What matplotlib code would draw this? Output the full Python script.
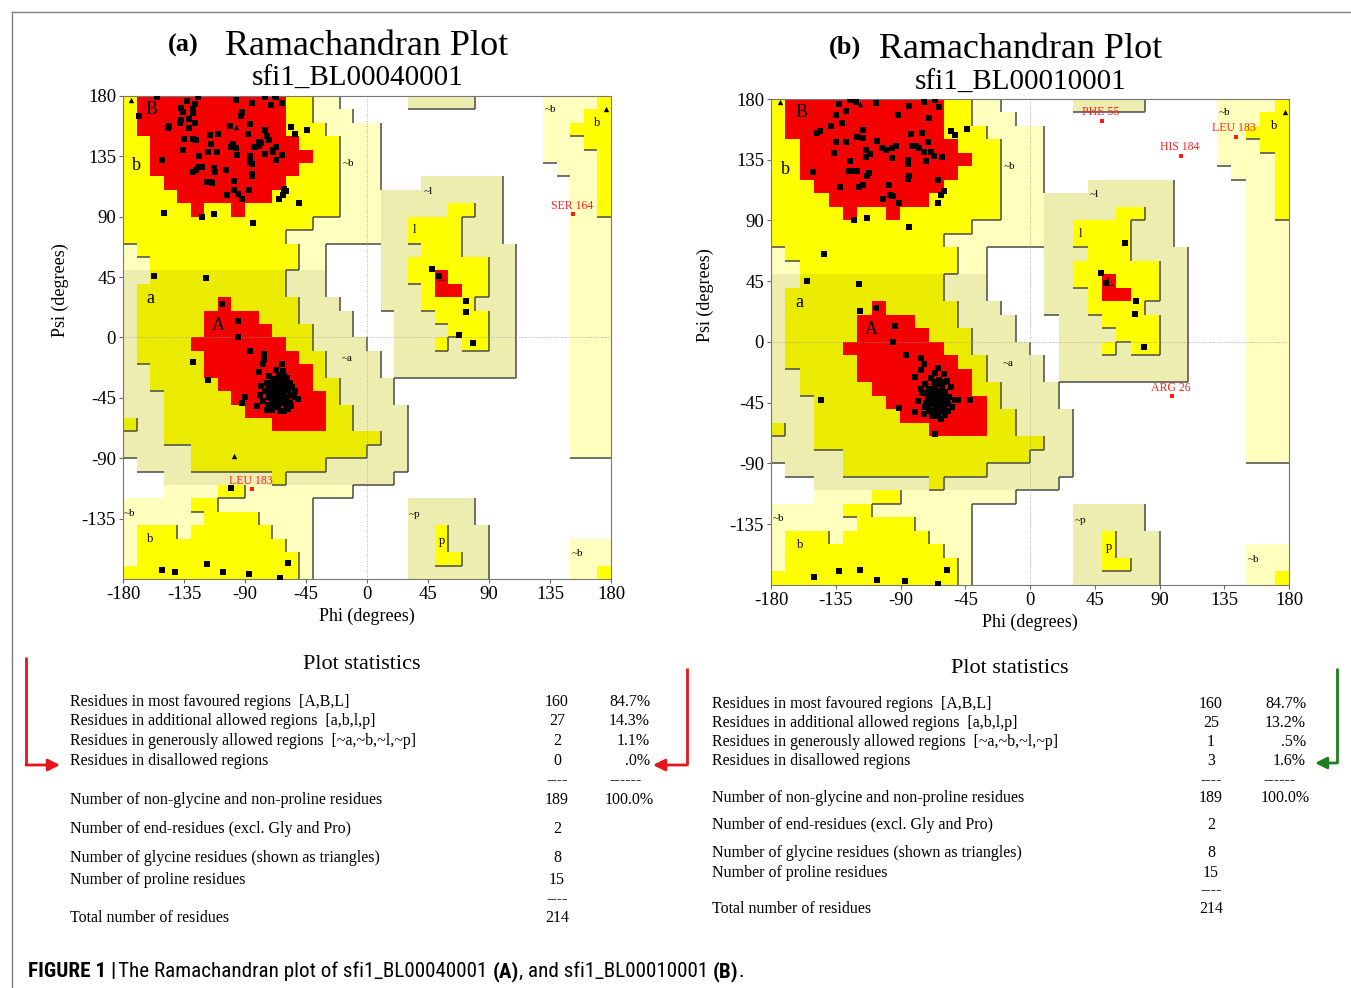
import matplotlib
matplotlib.use("Agg")
import matplotlib.pyplot as plt
import numpy as np
from matplotlib import font_manager
from matplotlib.collections import LineCollection
from matplotlib.colors import ListedColormap

W, H = 1351, 988
plt.rcParams["font.family"] = ["Liberation Serif", "DejaVu Serif"]
plt.rcParams["axes.unicode_minus"] = False

# PROCHECK region map in 10 degree cells: rows psi 180 -> -180, columns phi -180 -> 180
# R core, Y allowed (b,l,p), A allowed (a), g generous (~b), k generous (~a,~l,~p), . disallowed
REGION_ROWS = [
    "YRRRRRRRRRRRYYgg.....kkkkk.....ggggY",
    "YRRRRRRRRRRRYYggg..............gggYY",
    "YRRRRRRRRRRRYYYgggg............ggYYY",
    "YYRRRRRRRRRRRYYYggg............gggYY",
    "YYRRRRRRRRRRRRYYggg............ggggY",
    "YYRRRRRRRRRRRYYYggg.............gggY",
    "YYYRRRRRRRRRYYYYggg...kkkkkk.....ggY",
    "YYYYRRRRRRRYYYYYgggkkkkkkkkk.....ggY",
    "YYYYYRYYRYYYYYYYgggkkkkkYYkk.....ggY",
    "YYYYYYYYYYYYYYgggggkkYYYYkkk.....ggg",
    "YYYYYYYYYYYYgggggggkkYYYYkkk.....ggg",
    "gYYYYYYYYYYYYgg....kkkYYYkkkk....ggg",
    "ggYYYYYYYYYYYgg....kkYYYYYYkk....ggg",
    "kkAAAAAAAAAAkkk....kkYYRYYYkk....ggg",
    "kAAAAAAAAAAAkkk....kkkYRRYYkk....ggg",
    "kAAAAAARAAAAAkkk...kkkYYYYkkk....ggg",
    "kAAAAARRRRAAAkkkk...kkkYYYYkk....ggg",
    "kAAAAARRRRRAAAkkk...kkkkYYYkk....ggg",
    "kAAAARRRRRRRAAkkkk..kkkYkYYkk....ggg",
    "kAAAAARRRRRRRAAkkkk.kkkkkkkkk....ggg",
    "kkAAAARRRRRRRRAkkkk.kkkkkkkkk....ggg",
    "kkAAAAARRRRRRRAAkkkk.............ggg",
    "kkkAAAAARRRRRRRAkkkk.............ggg",
    "kkkAAAAAARRRRRRAAkkkk............ggg",
    "AkkAAAAAAAARRRRAAkkkk............ggg",
    "kkkAAAAAAAAAAAAAAAAkk............ggg",
    "kkkkkAAAAAAAAAAAAAkkk............ggg",
    ".kkkkAAAAAAAAAAkkkkkk...............",
    "...kkkkkkkkAkkkkkkkk................",
    "...ggggYYgggggggg...................",
    "gggggYYggggggg.......kkkkk..........",
    "ggggggYYYYgggg.......kkkkk..........",
    "gYYYgYYYYYYggg.......kkYkkk.........",
    "gYYYYYYYYYYYgg.......kkYkkk......ggg",
    "gYYYYYYYYYYYYg.......kkYYkk......ggg",
    "YYYYYYYYYYYYYg.......kkkkkk......ggY",
]
for row in REGION_ROWS:
    assert len(row) == 36, row
REGION_KEYS = ".gkYAR"
REGION_COLORS = ["#ffffff", "#ffffbe", "#ededaf", "#ffff00", "#ebeb00", "#f40000"]
REGION_LEVEL = {".": 0, "g": 1, "k": 1, "Y": 2, "A": 2, "R": 2}

REGION_LABELS = [
    ("B", -159, 170, 13), ("b", -170, 128, 13), ("A", -110, 9, 13), ("a", -160, 29, 13),
    ("~b", -14, 130, 8), ("~a", -15, -16, 8), ("~l", 45, 109, 8), ("l", 35, 80, 9),
    ("L", 55, 44, 9), ("~b", 135, 170, 8), ("b", 170, 160, 9), ("~b", -175, -131, 8),
    ("b", -160, -150, 9), ("~p", 35, -132, 8), ("p", 55, -152, 9), ("~b", 155, -161, 8),
]
TICKS = [-180, -135, -90, -45, 0, 45, 90, 135, 180]

# ---- plot (a): sfi1_BL00040001
A_SHEET = [
    (-155, 179), (-125, 179), (-133, 176), (-127, 174), (-128, 170), (-128, 167), (-137, 171),
    (-136, 168), (-146, 158), (-147, 156), (-138, 160), (-137, 162), (-131, 163), (-127, 160),
    (-131, 156), (-168, 165), (-97, 177), (-85, 175), (-75, 179), (-68, 179), (-71, 173),
    (-63, 175), (-92, 168), (-93, 165), (-101, 158), (-86, 159), (-88, 152), (-75, 155),
    (-56, 157), (-53, 152), (-44, 155), (-74, 150), (-72, 147), (-80, 146), (-78, 145),
    (-80, 143), (-69, 140), (-67, 142), (-69, 138), (-63, 136), (-67, 132), (-75, 137),
    (-83, 142), (-86, 135), (-86, 131), (-85, 129), (-85, 122), (-85, 120), (-97, 141),
    (-96, 136), (-100, 142), (-99, 144), (-110, 152), (-116, 151), (-115, 144), (-111, 138),
    (-117, 138), (-124, 135), (-125, 127), (-126, 125), (-128, 123), (-122, 127), (-113, 126),
    (-112, 123), (-116, 116), (-118, 116), (-114, 115), (-104, 125), (-98, 117), (-103, 106),
    (-98, 110), (-95, 107), (-92, 103), (-87, 110), (-65, 103), (-61, 111), (-62, 106),
    (-60, 109), (-50, 100), (-135, 148), (-128, 148), (-126, 147), (-136, 140), (-151, 132),
    (-150, 93), (-122, 90), (-113, 92), (-84, 85), (-157, 46), (-119, 44), (-67, 179),
]
A_HELIX = [
    (-107, 25), (-95, 12), (-95, 0), (-128, -18), (-86, -10), (-76, -12), (-76, -16),
    (-77, -20), (-117, -32), (-80, -26), (-90, -44), (-92, -49), (-81, -51), (-100, -112),
    (-63, -20), (-67, -24), (-62, -25), (-65, -28), (-72, -29), (-59, -30), (-68, -32),
    (-63, -33), (-74, -34), (-57, -34), (-67, -35), (-60, -37), (-70, -38), (-64, -39),
    (-58, -39), (-75, -40), (-53, -40), (-68, -42), (-62, -43), (-72, -44), (-56, -43),
    (-65, -45), (-59, -47), (-77, -47), (-69, -48), (-63, -49), (-57, -49), (-73, -50),
    (-67, -52), (-60, -52), (-70, -54), (-64, -55), (-58, -53), (-51, -46), (-74, -54),
    (-79, -43), (-78, -36), (-68, -31), (-60, -33), (-64, -41), (-66, -37), (-61, -41),
    (-69, -45), (-55, -37), (-71, -41), (-62, -47), (-66, -50), (-56, -51), (-73, -37),
    (-59, -44), (-65, -31), (-61, -29), (-70, -33), (-66, -41), (-63, -45), (-68, -50),
    (-61, -55), (-54, -44), (-72, -52), (-58, -36), (-64, -36), (-67, -46), (-60, -49),
    (-71, -45),
]
A_OTHER = [
    (-151, -173), (-142, -175), (-118, -169), (-106, -175), (-87, -176), (-64, -179),
    (-58, -168), (48, 51), (53, 46), (73, 27), (73, 19), (68, 2), (78, -4),
]
A_GLYCINES = [(-174, 177), (-97, 157), (-98, -88), (176, 170), (-71, -30)]
A_FLAGGED = [("SER 164", 152, 92), ("LEU 183", -85, -113)]

# ---- plot (b): sfi1_BL00010001
B_SHEET = [
    (-133, 176), (-125, 179), (-121, 178), (-128, 171), (-107, 177), (-135, 168), (-131, 162),
    (-138, 160), (-146, 156), (-148, 155), (-135, 148), (-128, 148), (-136, 140), (-125, 134),
    (-151, 126), (-126, 127), (-122, 127), (-120, 127), (-112, 125), (-113, 123), (-132, 115),
    (-119, 115), (-116, 116), (-116, 157), (-120, 152), (-116, 151), (-114, 142), (-114, 137),
    (-111, 139), (-106, 149), (-103, 144), (-100, 142), (-96, 144), (-93, 145), (-96, 136),
    (-92, 168), (-84, 175), (-74, 178), (-66, 179), (-63, 174), (-70, 166), (-75, 155),
    (-83, 154), (-82, 145), (-79, 145), (-77, 144), (-71, 148), (-74, 141), (-69, 141),
    (-67, 138), (-72, 134), (-61, 137), (-85, 135), (-85, 132), (-85, 121), (-84, 123),
    (-64, 120), (-98, 116), (-102, 106), (-97, 109), (-95, 108), (-91, 103), (-60, 112),
    (-62, 109), (-64, 103), (-55, 156), (-52, 153), (-44, 158), (-122, 90), (-113, 92),
    (-84, 85), (-143, 65), (-155, 45), (-119, 43),
]
B_HELIX = [
    (-118, 23), (-107, 25), (-94, 12), (-95, 0), (-86, -10), (-76, -12), (-74, -16),
    (-80, -26), (-76, -21), (-145, -43), (-91, -49), (-80, -52), (-42, -43), (-66, -68),
    (-50, -43),
    (-64, -19), (-66, -23), (-60, -24), (-69, -27), (-63, -28), (-58, -29), (-73, -31),
    (-66, -32), (-61, -33), (-55, -33), (-70, -35), (-64, -36), (-59, -37), (-75, -38),
    (-67, -39), (-62, -40), (-56, -41), (-71, -42), (-65, -43), (-60, -44), (-78, -44),
    (-68, -46), (-63, -47), (-57, -46), (-73, -48), (-66, -49), (-61, -50), (-70, -51),
    (-64, -53), (-59, -54), (-68, -55), (-74, -53), (-62, -57), (-52, -43), (-76, -35),
    (-67, -30), (-62, -36), (-65, -40), (-69, -44), (-60, -47), (-72, -38), (-58, -42),
    (-66, -45), (-63, -51), (-54, -48), (-71, -47), (-61, -39), (-67, -35), (-64, -31),
    (-60, -30), (-69, -37), (-65, -47), (-62, -44), (-67, -51), (-59, -40), (-72, -45),
    (-63, -38), (-57, -51), (-70, -41), (-66, -55),
]
B_OTHER = [
    (-150, -174), (-133, -170), (-118, -169), (-106, -176), (-87, -177), (-64, -179),
    (-58, -169), (49, 51), (53, 44), (66, 73), (74, 30), (73, 21), (79, -4),
]
B_GLYCINES = [(-174, 178), (-118, 176), (177, 170), (-72, -30)]
B_FLAGGED = [("PHE 55", 50, 164), ("LEU 183", 143, 152), ("HIS 184", 105, 138), ("ARG 26", 99, -40)]

# ---- statistics
STAT_ROWS = [
    "Residues in most favoured regions  [A,B,L]",
    "Residues in additional allowed regions  [a,b,l,p]",
    "Residues in generously allowed regions  [~a,~b,~l,~p]",
    "Residues in disallowed regions",
]
A_COUNTS = ["160", "27", "2", "0"]
A_PCTS = ["84.7%", "14.3%", "1.1%", ".0%"]
B_COUNTS = ["160", "25", "1", "3"]
B_PCTS = ["84.7%", "13.2%", ".5%", "1.6%"]
NONGLY_COUNT, NONGLY_PCT = "189", "100.0%"
END_COUNT, GLY_COUNT, PRO_COUNT, TOTAL_COUNT = "2", "8", "15", "214"


def rama(ax, groups, glycines, flagged):
    codes = np.array([[REGION_KEYS.index(ch) for ch in row] for row in REGION_ROWS])
    ax.imshow(codes, cmap=ListedColormap(REGION_COLORS), vmin=-0.5, vmax=len(REGION_KEYS) - 0.5,
              extent=(-180, 180, -180, 180), origin="upper", interpolation="nearest",
              aspect="auto", zorder=0)
    lev = np.array([[REGION_LEVEL[ch] for ch in row] for row in REGION_ROWS])
    n = lev.shape[0]
    segs = []
    for r in range(n):
        top = 180 - 10 * r
        for c in range(n):
            left = -180 + 10 * c
            if c < n - 1 and lev[r, c] > lev[r, c + 1]:
                segs.append([(left + 10, top - 10), (left + 10, top)])
            if r < n - 1 and lev[r, c] > lev[r + 1, c]:
                segs.append([(left, top - 10), (left + 10, top - 10)])
    ax.add_collection(LineCollection(segs, colors="#4a4a4a", linewidths=1.1, zorder=1))
    ax.axvline(0, color="#9a9a9a", lw=0.6, ls=(0, (1, 2)), zorder=2)
    ax.axhline(0, color="#9a9a9a", lw=0.6, ls=(0, (1, 2)), zorder=2)

    for txt, x, y, size in REGION_LABELS:
        ax.text(x, y, txt, fontsize=size, ha="center", va="center", zorder=3)

    pts = [p for g in groups for p in g]
    ax.scatter([p[0] for p in pts], [p[1] for p in pts], marker="s", s=15,
               color="black", linewidths=0, zorder=4)
    ax.scatter([p[0] for p in glycines], [p[1] for p in glycines], marker="^", s=15,
               color="black", linewidths=0, zorder=4)
    for name, x, y in flagged:
        ax.scatter([x], [y], marker="s", s=11, color="#ff1a1a", linewidths=0, zorder=4)
        ax.annotate(name, (x, y), xytext=(-1, 6), textcoords="offset points", ha="center",
                    va="center", fontsize=8.5, color="#ff2020", zorder=5)

    ax.set_xlim(-180, 180)
    ax.set_ylim(-180, 180)
    ax.set_xticks(TICKS)
    ax.set_yticks(TICKS[1:])
    ax.tick_params(direction="out", length=3, width=0.8, color="#666666", labelsize=13.5, pad=2)
    for s in ax.spines.values():
        s.set_color("#777777")
        s.set_linewidth(0.8)


def stats(ov, x_label, x_count, x_pct, x_title, y_title, ys, counts, pcts, dash_pct_x):
    fs = 11.5
    ov.text(x_title, y_title, "Plot statistics", fontsize=16, ha="center", va="baseline")
    for y, lab, n, p in zip(ys[:4], STAT_ROWS, counts, pcts):
        ov.text(x_label, y, lab, fontsize=fs, ha="left", va="baseline")
        ov.text(x_count, y, n, fontsize=fs, ha="center", va="baseline")
        ov.text(x_pct, y, p, fontsize=fs, ha="right", va="baseline")
    ov.text(x_count, ys[4], "----", fontsize=fs, ha="center", va="baseline")
    ov.text(dash_pct_x, ys[4], "------", fontsize=fs, ha="center", va="baseline")
    rows = [("Number of non-glycine and non-proline residues", NONGLY_COUNT, NONGLY_PCT),
            ("Number of end-residues (excl. Gly and Pro)", END_COUNT, ""),
            ("Number of glycine residues (shown as triangles)", GLY_COUNT, ""),
            ("Number of proline residues", PRO_COUNT, "")]
    for y, (lab, n, p) in zip(ys[5:9], rows):
        ov.text(x_label, y, lab, fontsize=fs, ha="left", va="baseline")
        ov.text(x_count, y, n, fontsize=fs, ha="center", va="baseline")
        if p:
            ov.text(x_pct + 4, y, p, fontsize=fs, ha="right", va="baseline")
    ov.text(x_count, ys[9], "----", fontsize=fs, ha="center", va="baseline")
    ov.text(x_label, ys[10], "Total number of residues", fontsize=fs, ha="left", va="baseline")
    ov.text(x_count, ys[10], TOTAL_COUNT, fontsize=fs, ha="center", va="baseline")


def bent_arrow(ov, x_v, y_top, y_bot, x_tip, color):
    ov.plot([x_v, x_v], [y_top, y_bot], color=color, lw=2.0, solid_capstyle="butt")
    ov.annotate("", xy=(x_tip, y_bot), xytext=(x_v, y_bot),
                arrowprops=dict(arrowstyle="-|>,head_length=0.7,head_width=0.35", color=color,
                                lw=2.0, shrinkA=0, shrinkB=0))


fig = plt.figure(figsize=(W / 100, H / 100), dpi=100)
ov = fig.add_axes([0, 0, 1, 1])
ov.set_xlim(0, W)
ov.set_ylim(H, 0)
ov.axis("off")

# frame
ov.plot([12, 12], [12, H], color="#808080", lw=1.0)
ov.plot([12, W], [12, 12], color="#808080", lw=1.0)

ax_a = fig.add_axes([123 / W, 1 - 579 / H, 488 / W, 483 / H])
ax_b = fig.add_axes([771 / W, 1 - 585 / H, 518 / W, 486 / H])
rama(ax_a, [A_SHEET, A_HELIX, A_OTHER], A_GLYCINES, A_FLAGGED)
rama(ax_b, [B_SHEET, B_HELIX, B_OTHER], B_GLYCINES, B_FLAGGED)

# titles
ov.text(183, 52, "(a)", fontsize=19, fontweight="bold", ha="center", va="baseline")
ov.text(225, 55, "Ramachandran Plot", fontsize=26, ha="left", va="baseline")
ov.text(358, 86, "sfi1_BL00040001", fontsize=21, ha="center", va="baseline")
ov.text(845, 54, "(b)", fontsize=19, fontweight="bold", ha="center", va="baseline")
ov.text(879, 58, "Ramachandran Plot", fontsize=26, ha="left", va="baseline")
ov.text(1021, 90, "sfi1_BL00010001", fontsize=21, ha="center", va="baseline")

# axis labels
ov.text(367, 616, "Phi (degrees)", fontsize=13, ha="center", va="center")
ov.text(60, 290, "Psi (degrees)", fontsize=13, ha="center", va="center", rotation=90)
ov.text(1030, 622, "Phi (degrees)", fontsize=13, ha="center", va="center")
ov.text(705, 295, "Psi (degrees)", fontsize=13, ha="center", va="center", rotation=90)

# statistics
stats(ov, 70, 557, 650, 362, 669,
      [706, 725, 745, 765, 784, 804, 833, 862, 884, 903, 922], A_COUNTS, A_PCTS, 626)
stats(ov, 712, 1211, 1306, 1010, 673,
      [708, 727, 746, 765, 784, 802, 829, 857, 877, 894, 913], B_COUNTS, B_PCTS, 1280)

bent_arrow(ov, 26, 657, 765, 60, "#e8141b")
bent_arrow(ov, 687, 668, 765, 653, "#e8141b")
bent_arrow(ov, 1337, 668, 763, 1315, "#1b7f1b")

# caption
names = {f.name for f in font_manager.fontManager.ttflist}
CAP_FONT = next((n for n in ["Liberation Sans Narrow", "Roboto Condensed", "Liberation Sans"]
                 if n in names), "DejaVu Sans")
pieces = [("FIGURE 1 |", "bold", 0.4), ("The Ramachandran plot of sfi1_BL00040001", "normal", 1),
          ("(A)", "bold", 0), (", and sfi1_BL00010001", "normal", 1), ("(B)", "bold", 0),
          (".", "normal", 0)]
renderer = fig.canvas.get_renderer()


def text_w(s, weight, size):
    t = ov.text(0, 0, s, fontsize=size, fontweight=weight, family=CAP_FONT)
    w = t.get_window_extent(renderer).width
    t.remove()
    return w


def caption_w(size):
    sp = text_w("a a", "normal", size) - text_w("aa", "normal", size)
    return sum(text_w(s, wt, size) + g * sp for s, wt, g in pieces), sp


base = 12.0
tot, _ = caption_w(base)
size = base * 717 / tot
_, sp = caption_w(size)
x = 28
for s, wt, g in pieces:
    ov.text(x, 977, s, fontsize=size, fontweight=wt, family=CAP_FONT, ha="left", va="baseline")
    x += text_w(s, wt, size) + g * sp

fig.savefig("out.png", dpi=100)
